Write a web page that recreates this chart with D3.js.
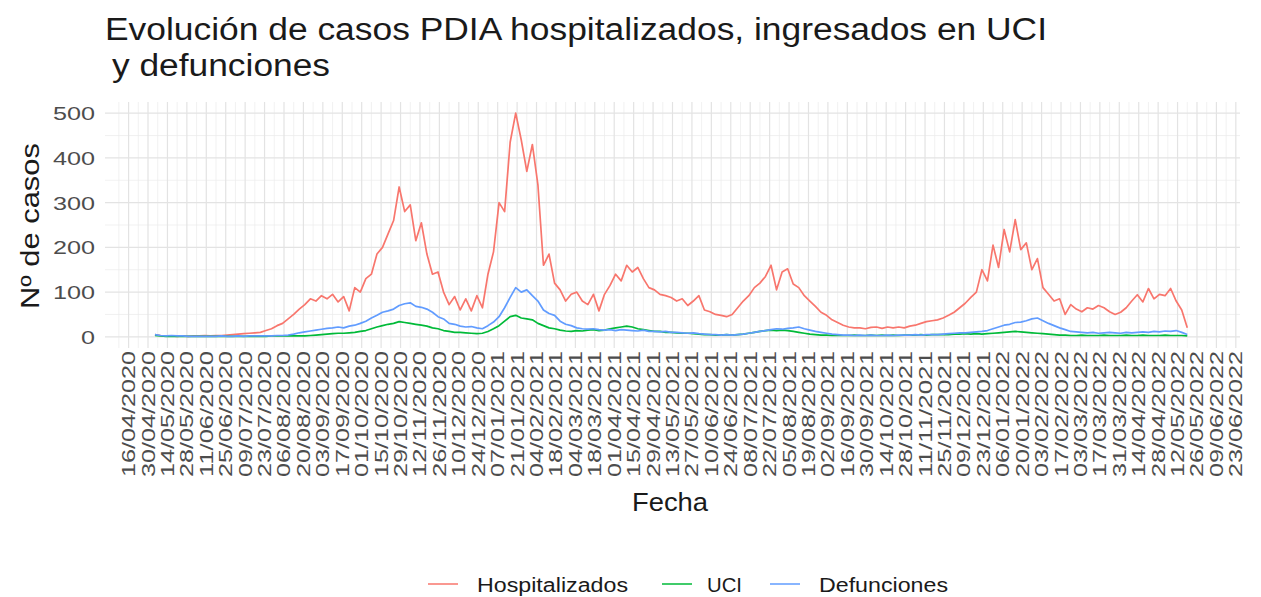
<!DOCTYPE html>
<html>
<head>
<meta charset="utf-8">
<script src="https://cdn.jsdelivr.net/npm/d3@7"></script>
<style>
body { margin: 0; background: #fff; }
svg { display: block; font-family: "Liberation Sans", Arial, sans-serif; }
</style>
</head>
<body>
<svg id="chart" width="1261" height="597"></svg>
<script>
var parseFecha = d3.timeParse('%d/%m/%Y')

var series = ['Hospitalizados', 'UCI', 'Defunciones']
var colores = ['#F8766D', '#00BA38', '#619CFF']

// serie diaria muestreada cada 4 dias
var fechaInicio = '05/05/2020'
var pasoDias = 4

var hospitalizados = [5,3,2,2,1,2,1,2,2,3,2,3,3,4,5,6,
    7,8,9,10,14,18,25,30,40,50,62,72,85,80,92,85,95,78,90,58,
    110,100,130,140,185,200,230,260,335,280,295,215,255,185,140,145,100,72,90,60,
    85,58,92,65,140,190,300,280,435,500,440,370,430,340,160,185,120,105,80,95,
    100,80,72,95,58,95,115,140,125,160,145,155,130,110,105,95,92,88,80,85,
    70,80,92,60,56,50,48,45,50,65,80,92,110,120,135,160,105,145,152,118,
    110,92,80,68,55,48,38,32,26,22,20,20,18,21,22,19,22,20,22,20,
    24,26,30,34,36,38,42,48,55,65,75,88,100,150,125,205,155,240,190,262,
    195,210,150,175,110,95,80,85,50,72,62,56,65,62,70,65,56,50,55,65,
    80,94,78,108,85,95,92,108,80,60,20]

var uci = [3,2,1,1,1,1,1,1,1,1,1,1,1,1,1,1,
    1,1,1,1,1,2,2,2,2,2,2,2,3,4,5,6,7,8,8,9,
    10,12,14,18,22,25,28,30,34,32,30,28,26,24,20,18,14,12,10,10,
    9,8,7,8,12,18,25,35,45,48,42,40,38,30,25,20,18,15,13,12,
    14,13,15,16,14,15,18,20,22,24,22,18,16,14,12,12,10,10,9,8,
    8,7,6,5,5,4,4,5,4,5,6,8,10,12,14,15,14,15,14,12,
    10,8,6,5,4,4,3,4,3,3,4,3,3,4,3,4,3,4,3,4,
    4,4,5,4,5,5,5,5,6,6,7,6,7,6,7,8,9,10,11,12,
    11,10,9,8,7,6,5,4,4,3,3,4,3,3,3,4,3,3,3,4,
    3,3,4,3,3,3,4,3,3,3,2]

var defunciones = [5,3,2,3,2,2,1,1,1,1,1,1,2,1,1,2,
    1,2,2,2,2,2,3,3,4,6,9,11,13,15,17,19,20,22,20,24,
    26,30,35,42,48,55,58,62,70,74,76,68,66,62,55,45,40,30,28,24,
    22,23,20,18,25,33,45,65,88,110,100,105,92,80,60,52,48,35,28,25,
    20,18,17,18,16,15,16,14,16,15,14,13,15,12,12,11,12,10,10,9,
    8,9,7,6,5,5,4,5,4,5,6,8,10,12,14,16,18,17,19,20,
    22,18,15,12,10,8,6,5,4,4,3,4,3,4,3,3,4,3,4,4,
    4,5,4,5,5,5,6,7,8,9,9,10,11,12,14,18,22,26,28,32,
    33,36,40,42,36,30,25,20,16,12,11,10,9,10,8,9,10,9,8,10,
    9,10,11,10,12,11,13,12,14,10,5]

var xTicks = ['16/04/2020','30/04/2020','14/05/2020','28/05/2020','11/06/2020','25/06/2020',
    '09/07/2020','23/07/2020','06/08/2020','20/08/2020','03/09/2020','17/09/2020','01/10/2020',
    '15/10/2020','29/10/2020','12/11/2020','26/11/2020','10/12/2020','24/12/2020','07/01/2021',
    '21/01/2021','04/02/2021','18/02/2021','04/03/2021','18/03/2021','01/04/2021','15/04/2021',
    '29/04/2021','13/05/2021','27/05/2021','10/06/2021','24/06/2021','08/07/2021','22/07/2021',
    '05/08/2021','19/08/2021','02/09/2021','16/09/2021','30/09/2021','14/10/2021','28/10/2021',
    '11/11/2021','25/11/2021','09/12/2021','23/12/2021','06/01/2022','20/01/2022','03/02/2022',
    '17/02/2022','03/03/2022','17/03/2022','31/03/2022','14/04/2022','28/04/2022','12/05/2022',
    '26/05/2022','09/06/2022','23/06/2022']
var yTicks = [0, 100, 200, 300, 400, 500]
var yMinor = [50, 150, 250, 350, 450]

var panel = {left: 105, right: 1240, top: 102, bottom: 348}

var svg = d3.select('#chart')

var xs = d3.scaleTime()
    .domain([parseFecha('30/03/2020'), parseFecha('26/06/2022')])
    .range([panel.left, panel.right])
var ys = d3.scaleLinear().domain([-25, 525]).range([panel.bottom, panel.top])

var inicio = parseFecha(fechaInicio)
var fechas = hospitalizados.map((d, i) => d3.timeDay.offset(inicio, i * pasoDias))
var valores = [hospitalizados, uci, defunciones]

texto = function(x, y, str, size, ancho, anchor, color) {
    return svg.append('text')
        .attr('x', x).attr('y', y)
        .attr('font-size', size)
        .attr('text-anchor', anchor || 'start')
        .attr('textLength', ancho)
        .attr('lengthAdjust', 'spacingAndGlyphs')
        .style('fill', color || '#1a1a1a')
        .text(str)
}

// rejilla
var grid = svg.append('g')
var xMajor = xTicks.map(parseFecha)
var xMinor = [d3.timeDay.offset(xMajor[0], -7)].concat(xMajor.slice(0, -1).map(d => d3.timeDay.offset(d, 7)))

grid.selectAll('.xminor').data(xMinor).enter().append('line')
    .attr('x1', d => xs(d)).attr('x2', d => xs(d))
    .attr('y1', panel.top).attr('y2', panel.bottom)
    .style('stroke', '#EBEBEB').style('stroke-width', 0.7)
grid.selectAll('.yminor').data(yMinor).enter().append('line')
    .attr('x1', panel.left).attr('x2', panel.right)
    .attr('y1', d => ys(d)).attr('y2', d => ys(d))
    .style('stroke', '#EBEBEB').style('stroke-width', 0.7)
grid.selectAll('.xmajor').data(xMajor).enter().append('line')
    .attr('x1', d => xs(d)).attr('x2', d => xs(d))
    .attr('y1', panel.top).attr('y2', panel.bottom)
    .style('stroke', '#E3E3E3').style('stroke-width', 1.2)
grid.selectAll('.ymajor').data(yTicks).enter().append('line')
    .attr('x1', panel.left).attr('x2', panel.right)
    .attr('y1', d => ys(d)).attr('y2', d => ys(d))
    .style('stroke', '#E3E3E3').style('stroke-width', 1.2)

// lineas
var linea = d3.line().x((d, i) => xs(fechas[i])).y(d => ys(d))
svg.append('g').selectAll('path').data(valores).enter().append('path')
    .attr('d', d => linea(d))
    .style('fill', 'none')
    .style('stroke', (d, i) => colores[i])
    .style('stroke-width', 1.7)
    .style('stroke-linejoin', 'round')

// ejes
yTicks.forEach(v => {
    texto(95, ys(v) + 7, String(v), 19, String(v).length * 14, 'end', '#4D4D4D')
})
xTicks.forEach(t => {
    svg.append('text')
        .attr('transform', `translate(${xs(parseFecha(t)) + 6.5}, 351) rotate(-90)`)
        .attr('font-size', 18.5)
        .attr('text-anchor', 'end')
        .attr('textLength', 126)
        .attr('lengthAdjust', 'spacingAndGlyphs')
        .style('fill', '#4D4D4D')
        .text(t)
})

svg.append('text')
    .attr('transform', 'translate(39, 226) rotate(-90)')
    .attr('font-size', 26)
    .attr('text-anchor', 'middle')
    .attr('textLength', 166)
    .attr('lengthAdjust', 'spacingAndGlyphs')
    .style('fill', '#1a1a1a')
    .text('Nº de casos')

texto(670, 511, 'Fecha', 25, 76, 'middle')

// titulo
texto(105, 40, 'Evolución de casos PDIA hospitalizados, ingresados en UCI', 31, 942)
texto(112, 76, 'y defunciones', 31, 218)

// leyenda
var leyenda = [
    {key: [428, 458], tx: 477, ancho: 151},
    {key: [662, 692], tx: 707, ancho: 35},
    {key: [770, 800], tx: 819, ancho: 129}
]
leyenda.forEach((l, i) => {
    svg.append('line')
        .attr('x1', l.key[0]).attr('x2', l.key[1])
        .attr('y1', 584).attr('y2', 584)
        .style('stroke', colores[i]).style('stroke-width', 1.5)
    texto(l.tx, 592, series[i], 20, l.ancho)
})
</script>
</body>
</html>
